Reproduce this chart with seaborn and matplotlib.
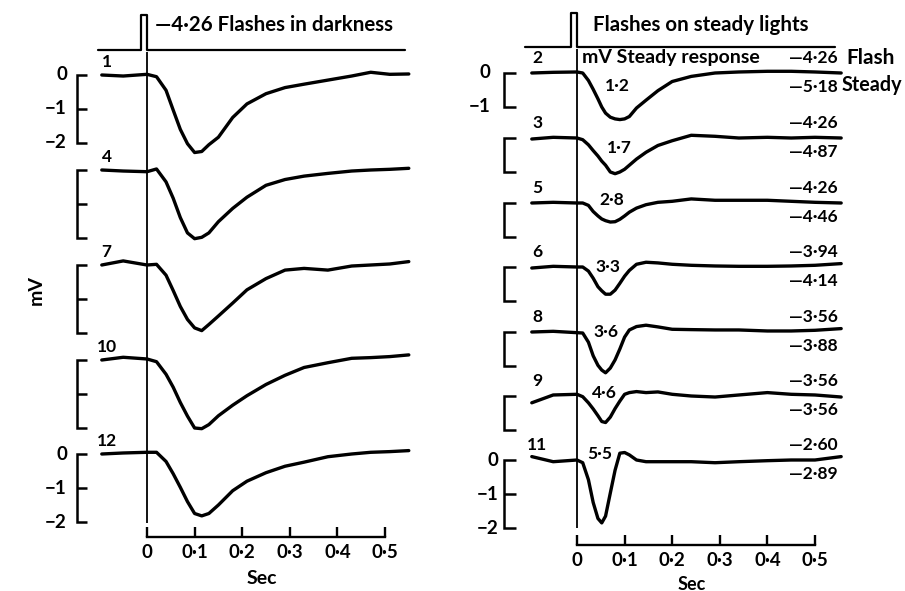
import numpy as np
import matplotlib
matplotlib.use("Agg")
import matplotlib.pyplot as plt
import seaborn as sns

# ---- data ----
# time grids (s)
t_dark = [-0.095, -0.05, 0, 0.02, 0.04, 0.055, 0.07, 0.085, 0.1, 0.115, 0.13,
          0.15, 0.18, 0.21, 0.25, 0.29, 0.33, 0.38, 0.43, 0.47, 0.51, 0.55]
t_steady = [-0.095, -0.05, 0, 0.012, 0.024, 0.034, 0.044, 0.052, 0.06, 0.07,
            0.08, 0.09, 0.1, 0.11, 0.125, 0.145, 0.17, 0.2, 0.24, 0.29, 0.34,
            0.4, 0.45, 0.5, 0.555]

# flashes in darkness (mV)
r1 = [0.0, -0.03, 0.02, -0.05, -0.45, -1.03, -1.6, -2.02, -2.28, -2.25, -2.05,
      -1.83, -1.25, -0.85, -0.55, -0.37, -0.27, -0.15, -0.03, 0.08, 0.02, 0.03]
r4 = [0.0, -0.03, -0.05, 0.03, -0.35, -0.83, -1.4, -1.85, -2.02, -1.98, -1.85,
      -1.52, -1.13, -0.8, -0.45, -0.28, -0.18, -0.1, -0.03, 0.0, 0.02, 0.05]
r7 = [0.0, 0.12, 0.0, 0.02, -0.3, -0.75, -1.22, -1.6, -1.85, -1.93, -1.75,
      -1.5, -1.12, -0.73, -0.4, -0.15, -0.1, -0.15, -0.03, 0.0, 0.03, 0.1]
r10 = [0.0, 0.08, 0.03, -0.05, -0.42, -0.8, -1.25, -1.65, -2.0, -2.02, -1.9,
       -1.64, -1.33, -1.05, -0.72, -0.45, -0.22, -0.08, 0.05, 0.07, 0.1, 0.15]
r12 = [0.0, 0.03, 0.05, 0.05, -0.22, -0.58, -0.98, -1.4, -1.75, -1.82, -1.75,
       -1.5, -1.08, -0.8, -0.55, -0.36, -0.24, -0.08, 0.0, 0.05, 0.07, 0.1]

# flashes on steady lights (mV)
r2 = [0.0, 0.02, 0.03, 0.0, -0.22, -0.48, -0.76, -1.0, -1.18, -1.3, -1.35,
      -1.37, -1.35, -1.28, -1.03, -0.8, -0.52, -0.25, -0.1, 0.0, 0.03, 0.05,
      0.05, 0.03, 0.0]
r3 = [-0.03, 0.02, 0.0, -0.05, -0.2, -0.37, -0.53, -0.68, -0.8, -1.0, -1.05,
      -1.0, -0.92, -0.8, -0.62, -0.42, -0.22, -0.08, 0.08, 0.05, 0.0, 0.02,
      0.0, 0.02, 0.0]
r5 = [0.0, 0.02, 0.0, 0.0, -0.07, -0.25, -0.38, -0.47, -0.52, -0.56, -0.55,
      -0.48, -0.38, -0.27, -0.15, -0.05, 0.02, 0.05, 0.12, 0.08, 0.08, 0.08,
      0.05, 0.02, 0.0]
r6 = [-0.03, 0.02, 0.0, 0.0, -0.12, -0.33, -0.58, -0.7, -0.8, -0.8, -0.68,
      -0.48, -0.27, -0.1, 0.08, 0.14, 0.12, 0.08, 0.05, 0.03, 0.02, 0.02,
      0.03, 0.05, 0.1]
r8 = [0.0, 0.02, -0.02, -0.03, -0.3, -0.7, -0.98, -1.12, -1.2, -1.06, -0.82,
      -0.5, -0.15, 0.06, 0.16, 0.2, 0.15, 0.08, 0.07, 0.06, 0.06, 0.03, 0.03,
      0.05, 0.1]
r9 = [-0.2, 0.03, 0.05, -0.02, -0.2, -0.38, -0.58, -0.75, -0.78, -0.62, -0.37,
      -0.15, 0.05, 0.1, 0.13, 0.1, 0.12, 0.05, 0.0, -0.03, 0.03, 0.1, 0.05,
      0.03, -0.03]
r11 = [0.1, -0.05, 0.0, -0.08, -0.58, -1.25, -1.72, -1.85, -1.65, -0.97, -0.3,
       0.2, 0.22, 0.15, 0.0, -0.05, -0.05, -0.05, -0.05, -0.08, -0.05, -0.02,
       0.0, 0.0, 0.1]

dark_ids = ["1", "4", "7", "10", "12"]
steady_ids = ["2", "3", "5", "6", "8", "9", "11"]
flash_log = ["4·26", "4·26", "4·26", "3·94", "3·56", "3·56", "2·60"]
steady_log = ["5·18", "4·87", "4·46", "4·14", "3·88", "3·56", "2·89"]
steady_resp = ["1·2", "1·7", "2·8", "3·3", "3·6", "4·6", "5·5"]

# stimulus monitor traces
stim_dark_t = [-0.103, -0.012, -0.012, 0.0, 0.0, 0.542]
stim_steady_t = [-0.109, -0.013, -0.013, 0.0, 0.0, 0.542]
stim_on = [0, 0, 1, 1, 0, 0]

sec_ticks = [0, 0.1, 0.2, 0.3, 0.4, 0.5]
sec_labels = ["0", "0·1", "0·2", "0·3", "0·4", "0·5"]

# ---- layout ----
W, H = 905, 591
PX_S = 476.0     # pixels per second
PX_MV = 34.0     # pixels per mV
Y0 = 75.0


def yd(py):
    return (Y0 - py) / PX_MV


dark_off = [yd(p) for p in [75, 170, 265, 360, 454]]
steady_off = [yd(p) for p in [73, 138, 203, 267, 332, 396, 460]]
resp_x = [0.084, 0.090, 0.074, 0.065, 0.061, 0.057, 0.048]
resp_dy = [-0.38, -0.30, 0.10, 0.0, 0.0, 0.10, 0.18]

sns.set_theme(style="ticks")
plt.rcParams["font.family"] = ["Lato", "DejaVu Sans"]
plt.rcParams["font.weight"] = "bold"

fig = plt.figure(figsize=(W / 100, H / 100), dpi=100)
fig.patch.set_facecolor("white")

axL = fig.add_axes([60 / W, 0, 360 / W, 1])
axL.set_xlim((60 - 147) / PX_S, (420 - 147) / PX_S)
axR = fig.add_axes([480 / W, 0, 425 / W, 1])
axR.set_xlim((480 - 577) / PX_S, (905 - 577) / PX_S)

K = "black"
TXT = dict(color=K, fontweight="bold")


def ftxt(px, py, s, size, ha="left", **kw):
    fig.text(px / W, 1 - py / H, s, fontsize=size, ha=ha, va="center", **TXT, **kw)


def setup(ax, axis_py):
    ax.set_ylim(yd(H), yd(0))
    ax.set_facecolor("none")
    for s in ["left", "top", "right"]:
        ax.spines[s].set_visible(False)
    sp = ax.spines["bottom"]
    sp.set_position(("data", yd(axis_py)))
    sp.set_bounds(0, 0.5)
    sp.set_color(K)
    sp.set_linewidth(1.7)
    ax.set_yticks([])
    ax.set_xticks(sec_ticks, labels=sec_labels)
    ax.tick_params(axis="x", direction="in", length=7.5, width=1.7, color=K,
                   labelcolor=K, labelsize=13.5, pad=5)
    for lab in ax.get_xticklabels():
        lab.set_fontweight("bold")


def bar(ax, x0, x1, top, span, mid):
    ax.plot([x1, x0, x0, x1], [top, top, top - span, top - span], color=K, lw=1.8,
            solid_capstyle="butt", solid_joinstyle="miter")
    if mid:
        ax.plot([x0, x1], [top - 1, top - 1], color=K, lw=1.8, solid_capstyle="butt")


setup(axL, 537)
setup(axR, 545)

# stimulus traces
axL.plot(stim_dark_t, [yd(50) + 1.03 * v for v in stim_on], color=K, lw=1.6)
axR.plot(stim_steady_t, [yd(47) + 1.0 * v for v in stim_on], color=K, lw=1.6)
axL.vlines(0, yd(523), yd(52), color=K, lw=1.3)
axR.vlines(0, yd(528), yd(49), color=K, lw=1.3)

# dark traces
for vals, off, tid in zip([r1, r4, r7, r10, r12], dark_off, dark_ids):
    sns.lineplot(x=t_dark, y=np.array(vals) + off, ax=axL, color=K, lw=2.4,
                 estimator=None, sort=False)
    axL.text(-0.085, off + 0.38, tid, fontsize=12.5, ha="center", va="center", **TXT)
    bar(axL, (77 - 147) / PX_S, (87 - 147) / PX_S, off, 2, True)

for off in [dark_off[0], dark_off[-1]]:
    for k, s in enumerate(["0", "−1", "−2"]):
        axL.text((67 - 147) / PX_S, off - k, s, fontsize=13.5, ha="right",
                 va="center", **TXT)

# steady traces
steady = [r2, r3, r5, r6, r8, r9, r11]
for i, (vals, off) in enumerate(zip(steady, steady_off)):
    sns.lineplot(x=t_steady, y=np.array(vals) + off, ax=axR, color=K, lw=2.4,
                 estimator=None, sort=False)
    axR.text(-0.084, off + 0.45, steady_ids[i], fontsize=12.5, ha="center",
             va="center", **TXT)
    axR.text(0.548, off + 0.45, "—" + flash_log[i], fontsize=12.5, ha="right",
             va="center", **TXT)
    axR.text(0.548, off - 0.40, "—" + steady_log[i], fontsize=12.5, ha="right",
             va="center", **TXT)
    axR.text(resp_x[i], off + resp_dy[i], steady_resp[i], fontsize=12.5,
             ha="center", va="center", **TXT)
    last = i == len(steady) - 1
    bar(axR, (504 - 577) / PX_S, (516 - 577) / PX_S, off, 2 if last else 1, last)

for k, s in enumerate(["0", "−1"]):
    axR.text((490 - 577) / PX_S, steady_off[0] - k, s, fontsize=13.5, ha="right",
             va="center", **TXT)
for k, s in enumerate(["0", "−1", "−2"]):
    axR.text((498 - 577) / PX_S, steady_off[-1] - k, s, fontsize=13.5, ha="right",
             va="center", **TXT)

# headings and axis titles
ftxt(155, 25, "—4·26 Flashes in darkness", 14.8)
ftxt(593, 25, "Flashes on steady lights", 14.8)
ftxt(582, 58, "mV Steady response", 14)
ftxt(846, 58, "Flash", 15)
ftxt(842, 85, "Steady", 14.2)
ftxt(262, 579, "Sec", 14, ha="center")
ftxt(692, 584, "Sec", 13, ha="center")
ftxt(36, 290, "mV", 14, ha="center", rotation=90)

fig.savefig("out.png", dpi=100, facecolor="white")
